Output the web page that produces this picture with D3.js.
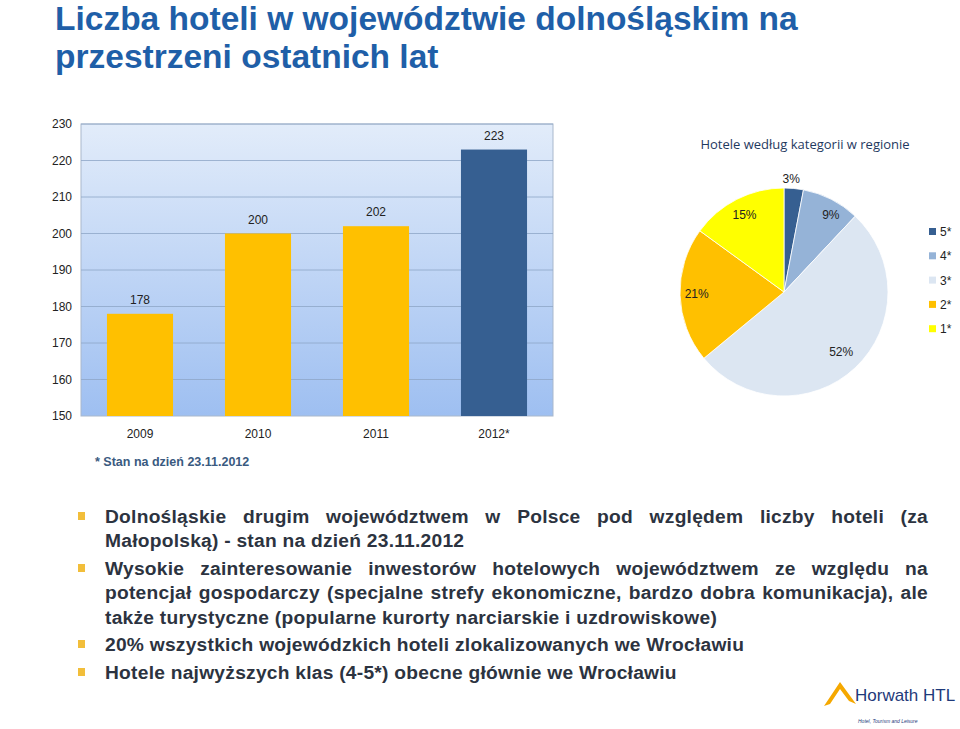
<!DOCTYPE html><html><head><meta charset="utf-8"><script src="https://cdn.jsdelivr.net/npm/d3@7"></script>
<style>body{margin:0;background:#fff;font-family:"Liberation Sans",Arial,sans-serif}
#bul{position:absolute;left:78px;top:505px;width:850px;color:#2c3340;font-size:19.2px;line-height:24.3px;font-weight:bold;letter-spacing:0.25px}
#bul p{margin:0 0 3.5px 0;padding-left:27px;text-align:justify;position:relative}
#bul p:before{content:"";position:absolute;left:0;top:7px;width:7px;height:8px;background:#f2be3a}
</style></head><body>
<svg id="c" width="960" height="729" style="position:absolute;left:0;top:0"></svg>
<div id="bul"></div>
<script>
const years=["2009","2010","2011","2012*"];
const hotels=[178,200,202,223];
const yTicks=[150,160,170,180,190,200,210,220,230];
const cats=["5*","4*","3*","2*","1*"];
const shares=[3,9,52,21,15];
const catColors=["#365f91","#95b3d7","#dce6f2","#ffc000","#ffff00"];
const bullets=["Dolnośląskie drugim województwem w Polsce pod względem liczby hoteli (za Małopolską) - stan na dzień 23.11.2012",
"Wysokie zainteresowanie inwestorów hotelowych województwem ze względu na potencjał gospodarczy (specjalne strefy ekonomiczne, bardzo dobra komunikacja), ale także turystyczne (popularne kurorty narciarskie i uzdrowiskowe)",
"20% wszystkich wojewódzkich hoteli zlokalizowanych we Wrocławiu",
"Hotele najwyższych klas (4-5*) obecne głównie we Wrocławiu"];
const F="Liberation Sans,Arial";
const svg=d3.select("#c");
const t=svg.append("text").attr("fill","#1f5fa8").attr("font-size",33.5).attr("font-weight","bold").attr("font-family",F);
t.append("tspan").attr("x",55).attr("y",30).text("Liczba hoteli w województwie dolnośląskim na");
t.append("tspan").attr("x",55).attr("y",68).text("przestrzeni ostatnich lat");
const defs=svg.append("defs");
const g=defs.append("linearGradient").attr("id","bg").attr("x1",0).attr("y1",0).attr("x2",0).attr("y2",1);
g.append("stop").attr("offset",0).attr("stop-color","#e2ecfa");
g.append("stop").attr("offset",1).attr("stop-color","#9ebff1");
const L=81,R=553,T=124,B=416;
const x=d3.scaleBand().domain(years).range([L,R]).paddingInner(0.44).paddingOuter(0.22);
const y=d3.scaleLinear().domain([150,230]).range([B,T]);
svg.append("rect").attr("x",L).attr("y",T).attr("width",R-L).attr("height",B-T).attr("fill","url(#bg)").attr("stroke","#a9b8cc");
svg.append("g").selectAll("line").data(yTicks.slice(1)).join("line").attr("x1",L).attr("x2",R).attr("y1",d=>y(d)).attr("y2",d=>y(d)).attr("stroke","#8ea6c6").attr("stroke-width",0.8);
svg.append("g").selectAll("text").data(yTicks).join("text").attr("x",72).attr("y",d=>y(d)+4).attr("text-anchor","end").attr("font-size",12).attr("fill","#222").attr("font-family",F).text(d=>d);
svg.append("g").selectAll("rect").data(hotels).join("rect").attr("x",(d,i)=>x(years[i])).attr("width",x.bandwidth()).attr("y",d=>y(d)).attr("height",d=>B-y(d)).attr("fill",(d,i)=>i==3?"#365f91":"#ffc000");
svg.append("g").selectAll("text").data(hotels).join("text").attr("x",(d,i)=>x(years[i])+x.bandwidth()/2).attr("y",d=>y(d)-10).attr("text-anchor","middle").attr("font-size",12).attr("fill","#222").attr("font-family",F).text(d=>d);
svg.append("g").selectAll("text").data(years).join("text").attr("x",d=>x(d)+x.bandwidth()/2).attr("y",438).attr("text-anchor","middle").attr("font-size",12).attr("fill","#222").attr("font-family",F).text(d=>d);
svg.append("text").attr("x",95).attr("y",466).attr("font-size",12.5).attr("font-weight","bold").attr("fill","#3a5a80").attr("font-family",F).text("* Stan na dzień 23.11.2012");
const cx=784,cy=292,r=104;
svg.append("text").attr("x",805).attr("y",149).attr("text-anchor","middle").attr("font-size",13).attr("fill","#1f3a5f").attr("font-family","Open Sans,sans-serif").text("Hotele według kategorii w regionie");
const arcs=d3.pie().sort(null).value(d=>d)(shares);
const arc=d3.arc().innerRadius(0).outerRadius(r);
const pg=svg.append("g").attr("transform",`translate(${cx},${cy})`);
pg.selectAll("path").data(arcs).join("path").attr("d",arc).attr("fill",(d,i)=>catColors[i]).attr("stroke","#fff").attr("stroke-width",0.8);
const la=[[0.07,-1.09],[0.45,-0.74],[0.55,0.58],[-0.84,0.02],[-0.38,-0.74]];
pg.selectAll("text").data(shares).join("text").attr("x",(d,i)=>la[i][0]*r).attr("y",(d,i)=>la[i][1]*r+4).attr("text-anchor","middle").attr("font-size",12).attr("fill","#222").attr("font-family",F).text(d=>d+"%");
const lg=svg.append("g").selectAll("g").data(cats).join("g").attr("transform",(d,i)=>`translate(929,${232+i*24.3})`);
lg.append("rect").attr("x",0).attr("y",-4).attr("width",7).attr("height",7).attr("fill",(d,i)=>catColors[i]);
lg.append("text").attr("x",11).attr("y",4).attr("font-size",12).attr("fill","#222").attr("font-family",F).text(d=>d);
svg.append("path").attr("d","M824,706 L840,682 L856,704 L849,701 L840,689 L830,704 Z").attr("fill","#f5a800");
svg.append("text").attr("x",855).attr("y",701).attr("font-size",17).attr("fill","#1f3a7a").attr("font-family",F).text("Horwath HTL");
svg.append("text").attr("x",858).attr("y",723).attr("font-size",5).attr("font-style","italic").attr("fill","#1f3a7a").attr("font-family",F).text("Hotel, Tourism and Leisure");
d3.select("#bul").selectAll("p").data(bullets).join("p").text(d=>d);
</script></body></html>
